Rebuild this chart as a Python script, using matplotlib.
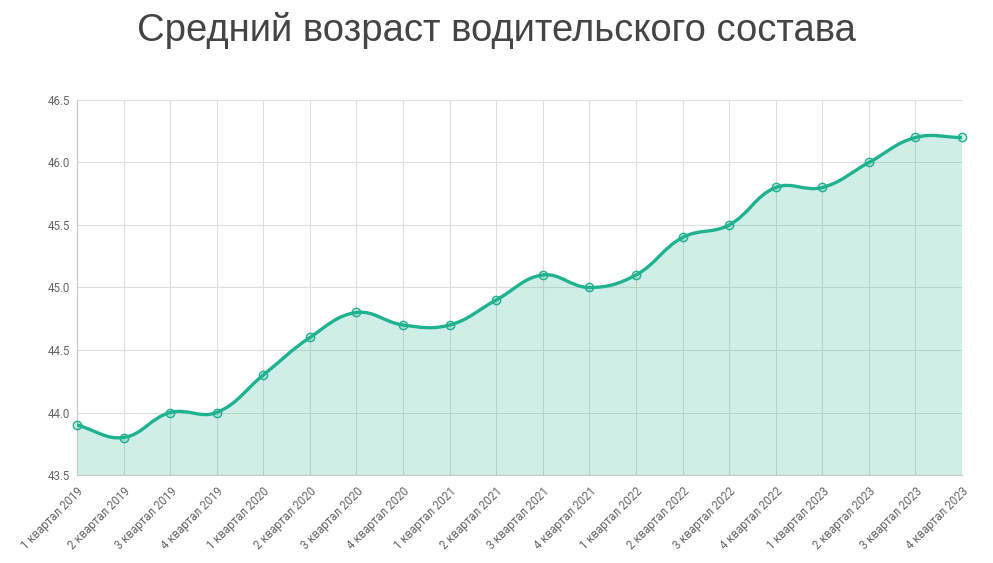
import numpy as np
import matplotlib.pyplot as plt
from matplotlib.path import Path
from matplotlib.patches import PathPatch

# данные
quarters = ["1 квартал 2019", "2 квартал 2019", "3 квартал 2019", "4 квартал 2019",
            "1 квартал 2020", "2 квартал 2020", "3 квартал 2020", "4 квартал 2020",
            "1 квартал 2021", "2 квартал 2021", "3 квартал 2021", "4 квартал 2021",
            "1 квартал 2022", "2 квартал 2022", "3 квартал 2022", "4 квартал 2022",
            "1 квартал 2023", "2 квартал 2023", "3 квартал 2023", "4 квартал 2023"]
avg_age = [43.9, 43.8, 44.0, 44.0, 44.3, 44.6, 44.8, 44.7, 44.7, 44.9,
           45.1, 45.0, 45.1, 45.4, 45.5, 45.8, 45.8, 46.0, 46.2, 46.2]
y_ticks = [43.5, 44.0, 44.5, 45.0, 45.5, 46.0, 46.5]

line_color = "#1fb28f"
fill_rgba = (0.12, 0.70, 0.56, 0.21)
text_color = "#666666"
grid_color = "#dedede"

fig = plt.figure(figsize=(9.93, 5.63), dpi=100)
ax = fig.add_axes([0.0775, 0.1563, 0.8913, 0.6661])
fig.text(0.5, 0.945, "Средний возраст водительского состава", ha="center", va="center",
         fontsize=27.5, color="#444444", family="Liberation Sans")

x = np.arange(len(avg_age))
y = np.array(avg_age)
ax.set_xlim(0, len(x) - 1)
ax.set_ylim(y_ticks[0], y_ticks[-1])

# сглаженная кривая как в Chart.js (tension 0.4), расстояния в пикселях
sx = 885 / (len(x) - 1)
sy = 375 / (y_ticks[-1] - y_ticks[0])
tension = 0.4
verts = [(x[0], y[0])]
codes = [Path.MOVETO]
cps = []
for i in range(len(x)):
    prev = i - 1 if i > 0 else i
    nxt = i + 1 if i < len(x) - 1 else i
    d01 = np.hypot((x[i] - x[prev]) * sx, (y[i] - y[prev]) * sy)
    d12 = np.hypot((x[nxt] - x[i]) * sx, (y[nxt] - y[i]) * sy)
    tot = d01 + d12
    fa = tension * d01 / tot if tot else 0
    fb = tension * d12 / tot if tot else 0
    dx, dy = x[nxt] - x[prev], y[nxt] - y[prev]
    cps.append(((x[i] - fa * dx, y[i] - fa * dy), (x[i] + fb * dx, y[i] + fb * dy)))
for i in range(len(x) - 1):
    verts += [cps[i][1], cps[i + 1][0], (x[i + 1], y[i + 1])]
    codes += [Path.CURVE4] * 3

line_path = Path(verts, codes)
fill_verts = verts + [(x[-1], y_ticks[0]), (x[0], y_ticks[0]), (x[0], y[0])]
fill_codes = codes + [Path.LINETO, Path.LINETO, Path.CLOSEPOLY]
ax.add_patch(PathPatch(Path(fill_verts, fill_codes), facecolor=fill_rgba, edgecolor="none", zorder=2))
ax.add_patch(PathPatch(line_path, facecolor="none", edgecolor=line_color, lw=2.4, zorder=3,
                       capstyle="round", joinstyle="round"))
ax.plot(x, y, linestyle="none", marker="o", markersize=6, markerfacecolor=fill_rgba,
        markeredgecolor=line_color, markeredgewidth=1.0, zorder=4, clip_on=False)

ax.set_xticks(x)
ax.set_xticklabels(quarters, rotation=45, ha="right", rotation_mode="anchor",
                   fontsize=8.3, color=text_color, family="Roboto")
ax.set_yticks(y_ticks)
ax.set_yticklabels([f"{v:.1f}" for v in y_ticks], fontsize=8.3, color=text_color, family="Roboto")
ax.tick_params(axis="both", length=0, pad=5)
ax.tick_params(axis="x", pad=7)
ax.grid(True, color=grid_color, lw=0.8, zorder=0)
ax.set_axisbelow(True)
for s in ["top", "right"]:
    ax.spines[s].set_visible(False)
ax.spines["left"].set_color("#c8c8c8")
ax.spines["bottom"].set_color("#c8c8c8")
ax.spines["left"].set_linewidth(0.8)
ax.spines["bottom"].set_linewidth(0.8)

fig.savefig("out.png", dpi=100)
